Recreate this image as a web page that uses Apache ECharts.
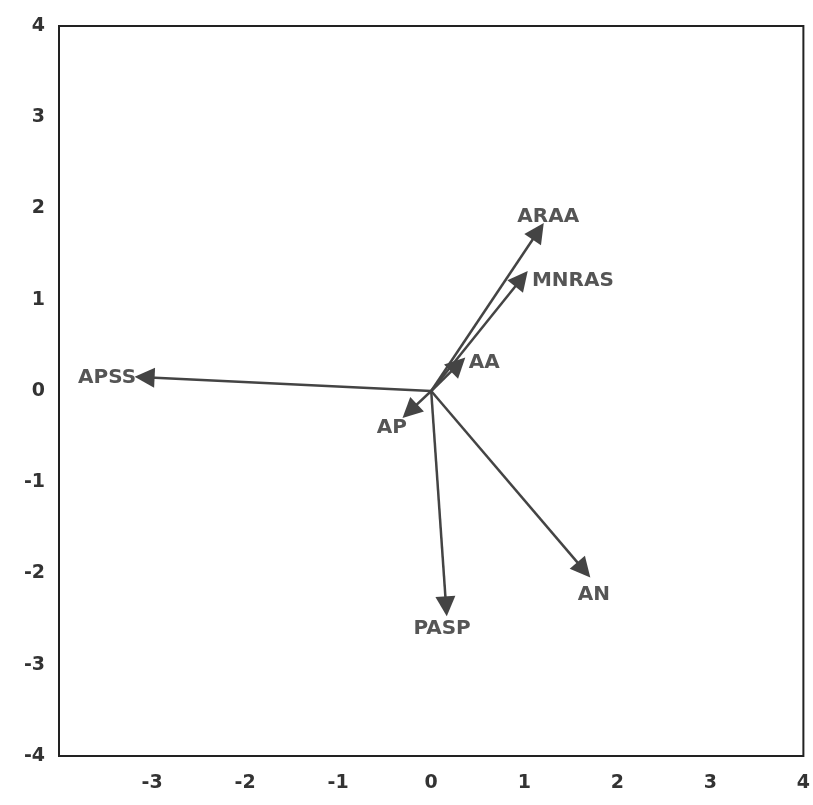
<!DOCTYPE html>
<html>
<head>
<meta charset="utf-8">
<script src="https://cdn.jsdelivr.net/npm/echarts@6/dist/echarts.min.js"></script>
<style>
html,body{margin:0;padding:0;background:#fff;}
#chart{width:813px;height:805px;}
</style>
</head>
<body>
<div id="chart"></div>
<script>
// Vector names and end points (origin at 0,0)
const names = ['ARAA', 'MNRAS', 'AA', 'AP', 'APSS', 'PASP', 'AN'];
const xEnd  = [1.15, 0.97, 0.29, -0.23, -3.08, 0.16, 1.64];
const yEnd  = [1.75, 1.23, 0.29, -0.22, 0.15, -2.36, -1.96];
const axisTicks = [-4, -3, -2, -1, 0, 1, 2, 3, 4];

// label placement per vector (style only)
const labelStyle = {
  'ARAA':  {position: 'top', distance: 4, offset: [10, 0]},
  'MNRAS': {position: 'right', distance: 10, offset: [0, 2]},
  'AA':    {position: 'right', distance: 10, offset: [0, -2]},
  'AP':    {position: 'bottom', distance: 6, offset: [-18, 0]},
  'APSS':  {position: 'left', distance: 8, offset: [0, 0]},
  'PASP':  {position: 'bottom', distance: 12, offset: [-4, 0]},
  'AN':    {position: 'bottom', distance: 14, offset: [10, 0]}
};

const lineData = names.map((n, i) => ({name: n, coords: [[0, 0], [xEnd[i], yEnd[i]]]}));
const tipData = names.map((n, i) => ({
  name: n,
  value: [xEnd[i], yEnd[i]],
  label: Object.assign({show: true}, labelStyle[n])
}));

const chart = echarts.init(document.getElementById('chart'), null, {renderer: 'canvas'});
const font = '"DejaVu Sans", sans-serif';
chart.setOption({
  animation: false,
  backgroundColor: '#ffffff',
  grid: {left: 59, right: 5, top: 26, bottom: 49, show: true, borderColor: '#222', borderWidth: 2, backgroundColor: 'transparent'},
  xAxis: {
    type: 'value', min: axisTicks[0], max: axisTicks[axisTicks.length - 1], interval: 1,
    axisLine: {show: false}, axisTick: {show: false}, splitLine: {show: false},
    axisLabel: {
      color: '#333', fontSize: 19, fontWeight: 'bold', fontFamily: font, margin: 18,
      formatter: v => (v === -4 ? '' : String(v))
    }
  },
  yAxis: {
    type: 'value', min: axisTicks[0], max: axisTicks[axisTicks.length - 1], interval: 1,
    axisLine: {show: false}, axisTick: {show: false}, splitLine: {show: false},
    axisLabel: {color: '#333', fontSize: 19, fontWeight: 'bold', fontFamily: font, margin: 14}
  },
  series: [
    {
      type: 'lines',
      coordinateSystem: 'cartesian2d',
      data: lineData,
      symbol: ['none', 'triangle'],
      symbolSize: [14, 20],
      lineStyle: {color: '#444', width: 2.5, opacity: 1},
      itemStyle: {color: '#555'},
      silent: true,
      z: 3
    },
    {
      type: 'scatter',
      data: tipData,
      symbolSize: 1,
      itemStyle: {color: 'rgba(0,0,0,0)'},
      label: {
        show: true,
        formatter: p => p.name,
        color: '#2a2a2a',
        fontSize: 20,
        fontWeight: 'bold',
        fontFamily: font
      },
      silent: true,
      z: 4
    }
  ]
});
</script>
</body>
</html>
